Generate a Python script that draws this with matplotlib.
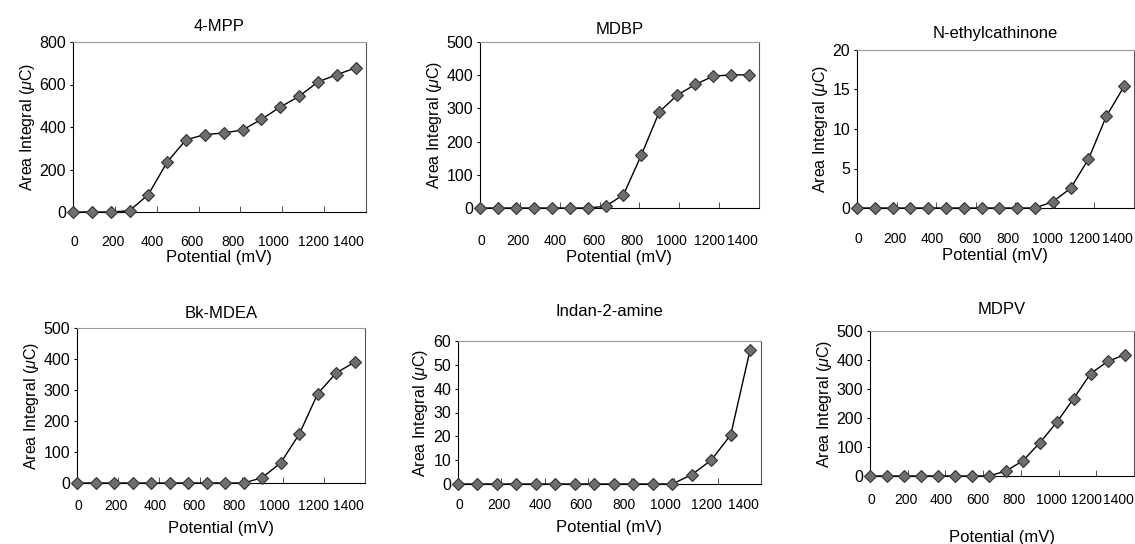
import matplotlib
matplotlib.use("Agg")
import matplotlib.pyplot as plt
from matplotlib import font_manager

# the scan uses a narrow sans; take a narrow face when one is installed
installed = {f.name for f in font_manager.fontManager.ttflist}
if 'Liberation Sans Narrow' in installed:
    base_font = 'Liberation Sans Narrow'
    text_size, xtick_size = 13, 12.5
else:
    base_font = 'Liberation Sans'
    text_size, xtick_size = 12, 10

plt.rcParams['font.family'] = [base_font, 'DejaVu Sans']
plt.rcParams['mathtext.fontset'] = 'custom'
plt.rcParams['mathtext.it'] = base_font + ':italic'

# potential of each measurement (mV)
potential = [0, 90, 180, 270, 360, 450, 540, 630, 720, 810, 900, 990, 1080, 1170, 1260, 1350]

mpp_4 = [0, 0, 0, 6, 82, 235, 340, 364, 372, 386, 436, 494, 544, 612, 646, 678]
mdbp = [0, 0, 0, 0, 0, 0, 0, 5, 40, 160, 290, 340, 372, 397, 401, 401]
n_ethylcathinone = [0, 0, 0, 0, 0, 0, 0, 0, 0, 0, 0, 0.8, 2.5, 6.2, 11.6, 15.4]
bk_mdea = [0, 0, 0, 0, 0, 0, 0, 0, 0, 0, 17, 65, 157, 288, 355, 390]
indan_2_amine = [0, 0, 0, 0, 0, 0, 0, 0, 0, 0, 0, 0, 3.9, 10, 20.6, 56.4]
mdpv = [0, 0, 0, 0, 0, 0, 0, 0, 17, 52, 114, 185, 267, 353, 395, 418]

titles = ["4-MPP", "MDBP", "N-ethylcathinone", "Bk-MDEA", "Indan-2-amine", "MDPV"]
series = [mpp_4, mdbp, n_ethylcathinone, bk_mdea, indan_2_amine, mdpv]
y_max = [800, 500, 20, 500, 60, 500]
y_step = [200, 100, 5, 100, 10, 100]
x_ticks = [0, 200, 400, 600, 800, 1000, 1200, 1400]
x_tick_labels = ["0", "200", "400", "600", "800", "1000", "1200", "1400"]
# the scanned labels sit a little left of their tick marks
x_label_pos = [5, 190, 380, 570, 765, 960, 1150, 1318]

W, H = 1135, 544
# axes boxes in pixels: left, right, top, bottom
boxes = [(73, 366, 42, 212), (480, 759, 42, 208), (857, 1134, 50, 208),
         (77, 365, 328, 483), (458, 761, 341, 484), (870, 1134, 331, 476)]
title_pad = [8, 6, 8.5, 7, 18, 12]
tick_pad = [16.5, 18.5, 17.5, 11.5, 10, 12]
xlabel_pad = [1, 1.5, 1, 5.5, 5.5, 17]

fig = plt.figure(figsize=(W / 100, H / 100), dpi=100)

for i in range(6):
    l, r, t, b = boxes[i]
    ax = fig.add_axes([l / W, 1 - b / H, (r - l) / W, (b - t) / H])
    ax.plot(potential, series[i], color='black', lw=1.0, marker='D', markersize=6,
            markerfacecolor='#6e6e6e', markeredgecolor='#333333', markeredgewidth=0.8,
            clip_on=False, zorder=3)
    ax.set_xlim(0, 1400)
    ax.set_ylim(0, y_max[i])
    ax.set_xticks(x_label_pos)
    ax.set_xticklabels(x_tick_labels)
    ax.set_xticks(x_ticks, minor=True)
    ax.set_yticks(range(0, y_max[i] + 1, y_step[i]))
    ax.tick_params(axis='x', which='major', length=0, pad=tick_pad[i], labelsize=xtick_size)
    ax.tick_params(axis='x', which='minor', direction='in', length=4, color='#333333')
    ax.tick_params(axis='y', direction='out', length=2, pad=3, labelsize=text_size - 0.5)
    ax.set_title(titles[i], fontsize=text_size, pad=title_pad[i])
    ax.set_xlabel("Potential (mV)", fontsize=text_size, labelpad=xlabel_pad[i])
    ax.set_ylabel(r"Area Integral ($\mu$C)", fontsize=text_size - 0.5, labelpad=2)
    ax.spines['left'].set_color('black')
    ax.spines['bottom'].set_color('black')
    ax.spines['top'].set_color('#9a9a9a')
    ax.spines['right'].set_color('#555555')
    ax.spines['top'].set_linewidth(0.8)
    ax.spines['right'].set_linewidth(0.8)

fig.savefig("out.png", dpi=100)
